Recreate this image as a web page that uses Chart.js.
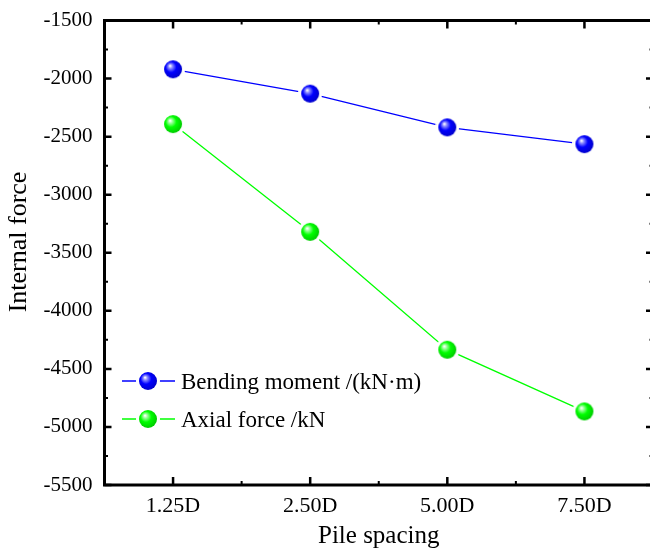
<!DOCTYPE html>
<html>
<head>
<meta charset="utf-8">
<script src="https://cdn.jsdelivr.net/npm/chart.js@4"></script>
<style>
html,body{margin:0;padding:0;overflow:hidden;background:#fff;width:650px;height:549px;}
#wrap{width:650px;height:549px;position:relative;overflow:hidden;}
#c{position:absolute;left:0;top:0;}
</style>
</head>
<body>
<div id="wrap"><canvas id="c" width="660" height="549"></canvas></div>
<script>
const categories = ['1.25D', '2.50D', '5.00D', '7.50D'];
const bendingMoment = [-1920, -2130, -2420, -2565];
const axialForce = [-2392, -3320, -4335, -4866];
const yTicks = [-5500, -5000, -4500, -4000, -3500, -3000, -2500, -2000, -1500];
const seriesNames = ['Bending moment /(kN\u00b7m)', 'Axial force /kN'];
const xTitle = 'Pile spacing';
const yTitle = 'Internal force';
const FONT = "'Liberation Serif', 'Times New Roman', serif";

function sphere(color, dark, light) {
  const R = 12, r = 9;
  const c = document.createElement('canvas');
  c.width = 2 * R; c.height = 2 * R;
  const g = c.getContext('2d');
  g.fillStyle = '#fff';
  g.beginPath(); g.arc(R, R, R, 0, Math.PI * 2); g.fill();
  const grad = g.createRadialGradient(R - 3, R - 3.5, 0.3, R - 1, R - 1, r + 1.5);
  grad.addColorStop(0, '#ffffff');
  grad.addColorStop(0.18, light);
  grad.addColorStop(0.5, color);
  grad.addColorStop(1, dark);
  g.fillStyle = grad;
  g.beginPath(); g.arc(R, R, r, 0, Math.PI * 2); g.fill();
  return c;
}
const blueBall = sphere('#0000ff', '#0000c8', '#8c8cff');
const greenBall = sphere('#00ff00', '#00c800', '#9cff9c');

function noPad(s) { s.paddingTop = 0; s.paddingBottom = 0; s.paddingLeft = 0; s.paddingRight = 0; }

const framePlugin = {
  id: 'frame',
  afterDraw(chart) {
    const {ctx, chartArea: a, scales: {x, y}} = chart;
    ctx.save();
    ctx.strokeStyle = '#000';
    ctx.lineCap = 'butt';
    ctx.lineWidth = 2.5;
    yTicks.forEach(v => {
      const py = y.getPixelForValue(v);
      ctx.beginPath();
      ctx.moveTo(a.left, py); ctx.lineTo(a.left + 7, py);
      ctx.moveTo(a.right, py); ctx.lineTo(a.right - 7, py);
      ctx.stroke();
    });
    categories.forEach((c, i) => {
      const px = x.getPixelForValue(i);
      ctx.beginPath();
      ctx.moveTo(px, a.bottom); ctx.lineTo(px, a.bottom - 8);
      ctx.moveTo(px, a.top); ctx.lineTo(px, a.top + 8);
      ctx.stroke();
    });
    ctx.lineWidth = 2;
    for (let i = 0; i < yTicks.length - 1; i++) {
      const py = y.getPixelForValue((yTicks[i] + yTicks[i + 1]) / 2);
      ctx.beginPath();
      ctx.moveTo(a.left, py); ctx.lineTo(a.left + 3.5, py);
      ctx.moveTo(a.right, py); ctx.lineTo(a.right - 3.5, py);
      ctx.stroke();
    }
    for (let i = 0; i < categories.length - 1; i++) {
      const px = x.getPixelForValue(i + 0.5);
      ctx.beginPath();
      ctx.moveTo(px, a.bottom); ctx.lineTo(px, a.bottom - 4);
      ctx.moveTo(px, a.top); ctx.lineTo(px, a.top + 4);
      ctx.stroke();
    }
    ctx.lineWidth = 3;
    ctx.strokeRect(a.left, a.top, a.right - a.left, a.bottom - a.top);
    // legend
    const rows = [
      {y: 381, color: '#0000ff', img: blueBall, text: seriesNames[0]},
      {y: 419, color: '#00ff00', img: greenBall, text: seriesNames[1]}
    ];
    ctx.font = '23px ' + FONT;
    ctx.textBaseline = 'middle';
    ctx.textAlign = 'left';
    rows.forEach(r => {
      ctx.strokeStyle = r.color;
      ctx.lineWidth = 1.3;
      ctx.beginPath(); ctx.moveTo(122, r.y); ctx.lineTo(175, r.y); ctx.stroke();
      ctx.drawImage(r.img, 148 - r.img.width / 2, r.y - r.img.height / 2);
      ctx.fillStyle = '#000';
      ctx.fillText(r.text, 181, r.y + 2);
    });
    // y axis title
    ctx.save();
    ctx.translate(19.5, 242);
    ctx.rotate(-Math.PI / 2);
    ctx.font = '26px ' + FONT;
    ctx.textAlign = 'center';
    ctx.textBaseline = 'middle';
    ctx.fillStyle = '#000';
    ctx.fillText(yTitle, 0, 0);
    ctx.restore();
    ctx.restore();
  }
};

new Chart(document.getElementById('c'), {
  type: 'line',
  data: {
    labels: categories,
    datasets: [
      {label: seriesNames[0], data: bendingMoment, borderColor: '#0000ff', borderWidth: 1.3,
       pointStyle: blueBall, pointRadius: 12, fill: false, tension: 0},
      {label: seriesNames[1], data: axialForce, borderColor: '#00ff00', borderWidth: 1.3,
       pointStyle: greenBall, pointRadius: 12, fill: false, tension: 0}
    ]
  },
  options: {
    responsive: false,
    animation: false,
    events: [],
    layout: {autoPadding: false, padding: {top: 20.5, right: 7, left: 0, bottom: 0}},
    plugins: {legend: {display: false}, tooltip: {enabled: false}},
    scales: {
      x: {
        type: 'category',
        offset: true,
        grid: {display: false, drawTicks: false},
        border: {display: false},
        ticks: {color: '#000', font: {family: FONT, size: 22}, padding: 8, maxRotation: 0},
        title: {display: true, text: xTitle, color: '#000',
                font: {family: FONT, size: 25, lineHeight: 1}, padding: {top: 0, bottom: 0}},
        afterFit(s) { s.height = 64; noPad(s); }
      },
      y: {
        min: -5500, max: -1500,
        grid: {display: false, drawTicks: false},
        border: {display: false},
        afterBuildTicks(s) { s.ticks = yTicks.map(v => ({value: v})); },
        ticks: {color: '#000', font: {family: FONT, size: 21}, padding: 12,
                callback: v => String(v)},
        title: {display: false},
        afterFit(s) { s.width = 104.5; noPad(s); }
      }
    }
  },
  plugins: [framePlugin]
});
</script>
</body>
</html>
